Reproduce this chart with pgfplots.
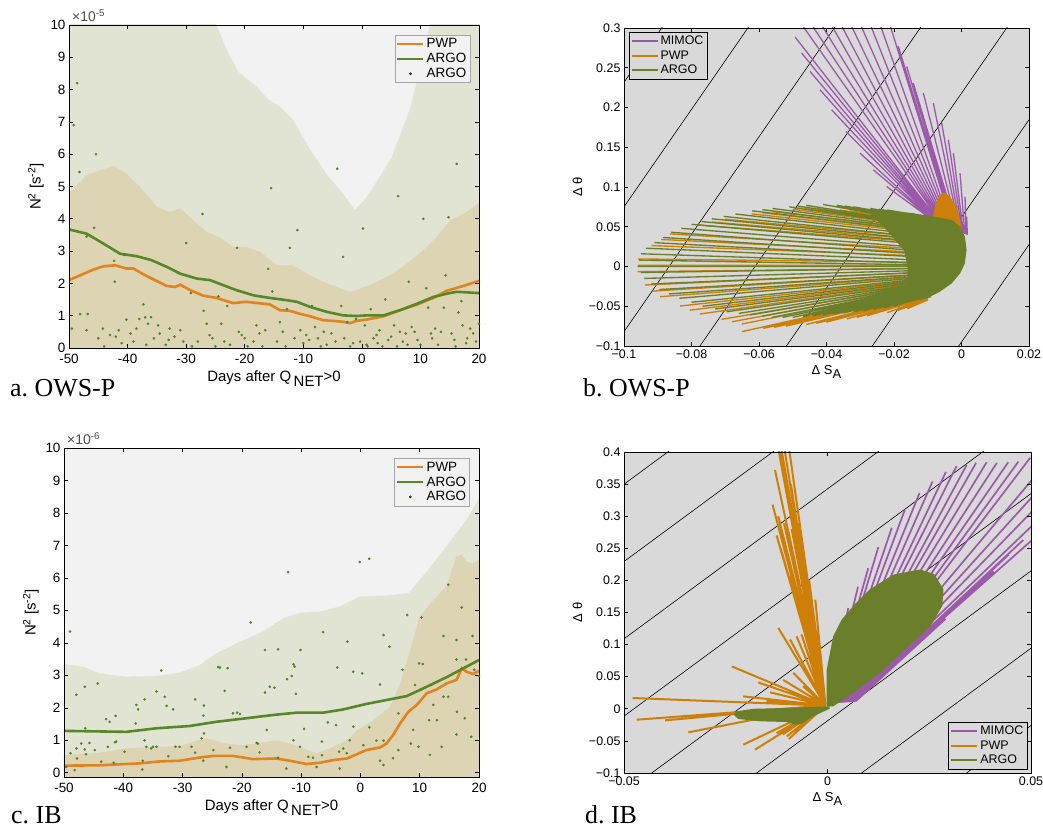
\documentclass[border=0pt]{standalone}
\usepackage{pgfplots}
\pgfplotsset{compat=1.18}
\usepackage{fontspec}
\setmainfont{Liberation Sans}
\newfontfamily\serif{Liberation Serif}
\definecolor{bgA}{HTML}{F2F2F2}
\definecolor{bandG}{HTML}{E1E4D3}
\definecolor{bandT}{HTML}{DDD4B3}
\definecolor{lineO}{HTML}{E3831E}
\definecolor{lineG}{HTML}{58872A}
\definecolor{dotG}{HTML}{55802A}
\definecolor{fanP}{HTML}{9B59AA}
\definecolor{fanO}{HTML}{CD7F08}
\definecolor{fanG}{HTML}{6B7F2B}
\definecolor{bgB}{HTML}{D9D9D9}
\pgfplotsset{
  base/.style={scale only axis, axis on top, tick align=inside, scaled ticks=false,
    major tick length=4bp, tick style={black, line width=0.6bp},
    axis line style={black, line width=0.8bp},
    legend cell align=left},
  tsbase/.style={base,
    ticklabel style={font=\fontsize{13.5}{15}\selectfont},
    xticklabel style={yshift=-3bp},
    label style={font=\fontsize{15}{17}\selectfont},
    legend style={at={(0.978,0.969)}, anchor=north east, fill=bgA, draw=black!35,
    font=\fontsize{13.5}{15}\selectfont, inner sep=1.5bp, row sep=0bp}},
  tsbase2/.style={base,
    ticklabel style={font=\fontsize{12.5}{14}\selectfont},
    label style={font=\fontsize{13}{15}\selectfont},
    legend style={fill=bgB, draw=black, font=\fontsize{12.5}{15}\selectfont, inner sep=1.5bp, row sep=0.5bp}},
}
\begin{document}
\begin{tikzpicture}
\useasboundingbox (0,0) rectangle (1043bp,828bp);

% ---------------- panel a ----------------
\begin{axis}[tsbase, name=pa, at={(69bp,480bp)}, anchor=south west, width=410bp, height=323bp,
  xmin=-50, xmax=20, ymin=0, ymax=10,
  axis background/.style={fill=bgA},
  xtick={-50,-40,...,20}, xticklabels={-50,-40,-30,-20,-10,0,10,20},
  ytick={0,1,...,10}, yticklabels={0,1,2,3,4,5,6,7,8,9,10},
  xlabel={Days after Q\,\raisebox{-0.55ex}{NET}>0},
  ylabel={N\textsuperscript{2} [s\textsuperscript{-2}]}]
\addlegendimage{legend image code/.code={\draw[draw=lineO, line width=2.4bp] (0bp,0bp) -- (26bp,0bp);}}
\addlegendentry{PWP}
\addlegendimage{legend image code/.code={\draw[draw=lineG, line width=2.4bp] (0bp,0bp) -- (26bp,0bp);}}
\addlegendentry{ARGO}
\addlegendimage{legend image code/.code={\fill[fill=dotG] (13bp,0bp) circle (1.1bp);}}
\addlegendentry{ARGO}
\addplot[fill=bandG, draw=none, forget plot] coordinates {
(-50,-1) (-50,11) (-26,11) (-24.8,10) (-23,9.2) (-21.1,8.55) (-18,8.1) (-16,7.7) (-14,7.47) (-11.7,7.05)
(-8.8,6.13) (-5.7,5.3) (-3.5,4.85) (-1.2,4.27) (0.5,4.6) (2,5.0) (5.1,5.9) (8.2,7.4) (10.5,9.0) (11.6,10) (12.5,11) (20,11) (20,-1)};
\addplot[fill=bandT, draw=none, forget plot] coordinates {
(-50,-1) (-50,4.78) (-47,5.35) (-44.7,5.5) (-42.4,5.64) (-40.2,5.4) (-37.9,4.99) (-35,4.37) (-32.8,4.21)
(-31,4.32) (-28.8,3.96) (-26.5,3.6) (-24.2,3.42) (-22,3.13) (-19.7,3.13) (-17.4,2.98) (-14.5,2.56)
(-11.7,2.56) (-9.4,2.3) (-6.6,2.05) (-4.3,1.89) (-2,1.74) (-0.3,1.84) (2,2.0) (4.8,2.25) (7.7,2.61)
(10.5,3.03) (12.8,3.44) (15.1,3.96) (17.9,4.21) (20,4.5) (20,-1)};
\addplot[dotG, only marks, mark=*, mark size=1.1bp, mark options={draw=none, fill=dotG}, forget plot] coordinates {
(-48.6,8.2) (-49.2,6.9) (-48.2,5.45) (-45.4,6.0) (-45.7,3.72) (-47,3.45) (-42.2,2.05) (-42.3,2.7)
(-40.6,2.88) (-48.1,1.05) (-47,0.55) (-46.8,1.05) (-49.5,0.6) (-44.2,0.6) (-43,0.4) (-42,0.35)
(-41.5,0.55) (-40.2,0.88) (-39.5,0.45) (-38.5,0.6) (-38,0.9) (-37.3,1.35) (-37,0.95) (-36.5,0.75)
(-36,0.95) (-35.5,0.3) (-34.8,0.7) (-34.5,0.45) (-33.5,0.1) (-32.8,0.6) (-31,0.55) (-30.5,0.2)
(-30,3.25) (-29.2,1.7) (-28,0.2) (-27.2,4.15) (-27,1.15) (-26.5,0.75) (-26,0.4) (-25.5,0.3)
(-24.5,1.6) (-24,0.75) (-23.5,0.2) (-23,1.3) (-22.5,0.1) (-21.3,3.1) (-21,0.5) (-20.5,0.4)
(-19.5,0.05) (-18.5,0.2) (-17.5,0.45) (-16.5,0.55) (-16,2.45) (-15.5,4.95) (-15.3,1.75) (-14.5,0.2)
(-14,0.8) (-13.5,0.5) (-12.8,1.2) (-12.3,3.1) (-11.5,0.3) (-11,3.65) (-10.5,0.55) (-10,0.15)
(-9,0.25) (-8.5,1.3) (-8,0.65) (-7.5,0.3) (-6.5,0.5) (-6,0.1) (-5.2,0.45) (-4.2,5.55) (-3.5,1.3)
(-3.2,2.82) (-3,0.3) (-2.5,0.8) (-1.5,0.15) (-1,0.9) (-0.3,0.2) (0.2,3.7) (0.5,0.7) (0.8,0.1)
(1.5,1.2) (2,0.3) (2.7,0.15) (3,0.55) (4,1.5) (4.5,0.25) (5,0.35) (5.5,0.7) (6.2,4.7) (6.5,0.5)
(7,0.2) (7.5,0.45) (8,2.05) (8.5,0.65) (9,0.5) (9.5,0.25) (10.5,4.0) (11,1.85) (11.3,1.25) (12,0.3)
(13,0.1) (13.5,0.5) (14,1.25) (14.3,2.25) (14.8,4.05) (15.3,0.45) (15.8,0.25) (16.2,5.7) (16.5,1.1)
(17,1.45) (17.2,0.7) (18,0.3) (18.5,0.6) (19,0.45) (19.5,0.2) (20,0.75) (19.8,1.7) (-44,0.05)
(-41,0.15) (-36.8,0.1) (-32,0.35) (-29,0.05) (-20,0.3) (-17,0.05) (-13,0.05) (-7,0.05) (-2,0.05)
(1,0.05) (3.5,0.05) (6,0.05) (10,0.1) (12.5,0.6) (16,0.05) (-45,0.3) (-39,0.2) (-33,0.25)
(-25,0.05) (-18,0.7) (-9.5,0.4) (-4.5,0.2) (2.5,0.4) (7.8,0.1) (11.8,0.45) (17.8,0.15)};
\addplot[lineO, line width=2.6bp, forget plot] coordinates {
(-50,2.1) (-48.1,2.25) (-45.8,2.43) (-44.1,2.53) (-42.1,2.56) (-40.2,2.46) (-39,2.46) (-37.3,2.28)
(-35,2.07) (-33.3,1.92) (-31.9,1.89) (-31,1.96) (-29.3,1.79) (-27.1,1.62) (-24.8,1.55) (-22,1.39)
(-19.7,1.43) (-16.8,1.37) (-15.7,1.35) (-14,1.17) (-12.3,1.15) (-10.6,1.06) (-8.8,0.98) (-6.6,0.86)
(-4.9,0.84) (-3.2,0.81) (-2,0.77) (-0.9,0.84) (0.8,0.88) (3.7,0.98) (6.5,1.17) (9.4,1.34)
(12.2,1.55) (14.5,1.77) (17.3,1.92) (20,2.08)};
\addplot[lineG, line width=2.6bp, forget plot] coordinates {
(-50,3.67) (-47,3.54) (-44.1,3.23) (-41.3,2.92) (-38.4,2.84) (-35.9,2.72) (-33.3,2.51) (-31,2.3)
(-28.2,2.15) (-25.9,2.1) (-23.6,1.94) (-21.4,1.79) (-18.5,1.63) (-15.7,1.55) (-12.8,1.48)
(-11.1,1.43) (-8.8,1.27) (-6,1.12) (-3.2,1.01) (-0.9,0.99) (0.8,1.01) (3.7,1.01) (6.5,1.17)
(9.4,1.37) (12.2,1.58) (14.5,1.68) (16.2,1.74) (20,1.7)};
\end{axis}
\node[anchor=base west, inner sep=0pt, font=\fontsize{14}{15}\selectfont, text=black!70] at ([xshift=3bp,yshift=3bp]pa.north west) {×10\textsuperscript{-5}};

% ---------------- panel c ----------------
\begin{axis}[tsbase, name=pc, at={(64bp,51bp)}, anchor=south west, width=415bp, height=329bp,
  xmin=-50, xmax=20, ymin=-0.13, ymax=10,
  axis background/.style={fill=bgA},
  xtick={-50,-40,...,20}, xticklabels={-50,-40,-30,-20,-10,0,10,20},
  ytick={0,1,...,10}, yticklabels={0,1,2,3,4,5,6,7,8,9,10},
  xlabel={Days after Q\,\raisebox{-0.55ex}{NET}>0},
  ylabel={N\textsuperscript{2} [s\textsuperscript{-2}]}]
\addlegendimage{legend image code/.code={\draw[draw=lineO, line width=2.4bp] (0bp,0bp) -- (26bp,0bp);}}
\addlegendentry{PWP}
\addlegendimage{legend image code/.code={\draw[draw=lineG, line width=2.4bp] (0bp,0bp) -- (26bp,0bp);}}
\addlegendentry{ARGO}
\addlegendimage{legend image code/.code={\fill[fill=dotG] (13bp,0bp) circle (1.1bp);}}
\addlegendentry{ARGO}
\addplot[fill=bandG, draw=none, forget plot] coordinates {
(-50,-1) (-50,3.34) (-46.8,3.27) (-44,3.06) (-39.5,2.96) (-34.4,2.98) (-30.5,3.08) (-27.1,3.32)
(-24.3,3.68) (-20.3,4.04) (-16.4,4.35) (-13,4.76) (-10.2,4.93) (-6.8,4.96) (-3.5,5.12) (-0.1,5.43)
(3.9,5.45) (8.1,5.53) (11.2,6.2) (14.5,6.97) (17.9,7.79) (20,8.46) (20,-1)};
\addplot[fill=bandT, draw=none, forget plot] coordinates {
(-50,-1) (-50,0.545) (-44,0.62) (-39.5,0.75) (-34.4,0.8) (-30.5,0.82) (-28.2,0.96) (-26,1.06)
(-22.6,0.9) (-20.3,0.85) (-17,0.92) (-14.2,1.0) (-11.9,0.9) (-9.7,0.75) (-7.4,0.6) (-5.2,0.75)
(-2.3,1.0) (-0.6,1.3) (2.2,1.62) (5,2.03) (6.7,2.75) (8.4,3.78) (10,4.81) (12.3,5.32) (14.5,5.73)
(16.2,6.66) (17.1,6.71) (17.9,6.5) (19,6.45) (20,6.56) (20,-1)};
\addplot[dotG, only marks, mark=*, mark size=1.1bp, mark options={draw=none, fill=dotG}, forget plot] coordinates {
(-49,4.35) (-47.9,2.4) (-46.5,2.65) (-44.3,2.75) (-33.6,3.15) (-18.5,4.63) (-12.2,6.18) (-0.1,6.49)
(1.5,6.59) (-6.3,4.33) (-2.2,4.04) (3.9,4.24) (4.9,3.88) (7.9,4.86) (10.3,4.78) (17.1,5.09)
(14.8,5.79) (16.2,4.09) (18.9,4.21) (14,4.21) (9.9,3.37) (7.1,3.17) (9.2,2.7) (3.3,2.72) (0.3,3.06)
(-1.2,3.11) (-3.9,3.24) (-11.6,2.98) (-12.4,2.88) (-11.3,3.34) (-11.1,3.27) (-10.9,2.43) (-10.1,3.78)
(-13.9,3.8) (-16.1,3.78) (-15.3,2.65) (-16.1,2.47) (-23.7,3.24) (-22.4,3.22) (-22.9,2.52) (-21.5,1.83)
(-20.3,1.81) (-27.9,2.26) (-26.4,2.07) (-26.5,1.76) (-31.6,1.95) (-32.7,2.06) (-33,2.34) (-34.4,2.5)
(-37.5,1.95) (-37.8,2.09) (-36.4,2.26) (-42.9,1.65) (-42.3,1.57) (-41.3,1.75) (-37.9,1.52)
(-47.9,0.75) (-41.4,0.94) (-35,0.8) (-31.2,0.8) (-26.8,1.06) (-26.4,1.21) (-15.8,1.32) (-17.5,0.92)
(-4.1,1.47) (-1.8,1.0) (-1.2,1.42) (6.4,1.83) (6.4,0.7) (8.5,0.9) (8.9,1.32) (9.8,0.8) (11.7,0.55)
(12.3,2.09) (12.9,1.62) (11.6,1.62) (13.7,0.8) (14,2.34) (14.8,2.34) (16.2,1.18) (16.3,1.88)
(17.6,1.68) (18.7,1.11) (19.2,3.17) (20,2.98) (17.8,3.49) (16.2,3.49) (3.9,0.24) (3.3,0.37)
(2.7,0.99) (3.9,0.99) (0.5,0.85) (-2.3,0.6) (-3.5,0.13) (-2.9,0.75) (-3.6,0.65) (-6.5,0.96)
(-6.5,0.54) (-7.4,0.18) (-8,0.46) (-8.8,0.49) (-10.2,0.8) (-11.3,1.0) (-12.5,0.13) (-13.9,0.46)
(-17,0.63) (-17.3,0.9) (-19.2,0.8) (-22,0.77) (-22.6,0.18) (-24.8,0.7) (-26.5,0.37) (-27.9,0.62)
(-28.5,0.8) (-30.5,0.8) (-32.4,0.51) (-34.4,0.8) (-35.3,0.75) (-36.1,0.8) (-36.4,1.0) (-36.8,0.1)
(-36.7,0.37) (-39.8,0.65) (-41.2,0.96) (-41.6,0.31) (-42.6,0.8) (-43.7,0.34) (-44.8,0.7) (-45.7,0.92)
(-46.3,0.57) (-46.5,0.72) (-47.1,0.9) (-47.8,0.44) (-48.2,0.08) (-48.9,0.6) (-49.6,0.18) (-46.4,1.37)
(-24,3.25) (-20.8,1.85) (-14.5,2.62) (-9.5,1.35) (-5.5,1.55) (1.5,1.4) (5.5,0.45) (10.5,3.35)};
\addplot[lineO, line width=2.6bp, forget plot] coordinates {
(-50,0.22) (-44,0.23) (-37.2,0.29) (-33.8,0.35) (-30.5,0.37) (-27.1,0.47) (-24.8,0.52) (-21.5,0.52)
(-18.1,0.42) (-14.2,0.44) (-11.9,0.37) (-9.1,0.27) (-6.8,0.31) (-4.6,0.39) (-2.3,0.44) (-0.6,0.57)
(1,0.7) (3.3,0.78) (4.4,0.9) (5.5,1.16) (6.7,1.52) (8.1,1.88) (9.5,2.09) (11.2,2.45) (12.9,2.57)
(14.5,2.75) (16.2,2.86) (17.1,3.22) (17.9,3.11) (19,3.04) (20,3.14)};
\addplot[lineG, line width=2.6bp, forget plot] coordinates {
(-50,1.29) (-39.5,1.26) (-34.4,1.37) (-28.8,1.44) (-24.3,1.57) (-19.2,1.68) (-14.7,1.78) (-10.8,1.85)
(-6.3,1.85) (-2.9,1.95) (1,2.12) (4.4,2.24) (7.8,2.36) (11.2,2.65) (14.5,2.94) (17.4,3.22) (20,3.47)};
\end{axis}
\node[anchor=base west, inner sep=0pt, font=\fontsize{14}{15}\selectfont, text=black!70] at ([xshift=3bp,yshift=3bp]pc.north west) {×10\textsuperscript{-6}};

% ---------------- panel b ----------------
\begin{axis}[tsbase2, at={(624bp,482bp)}, anchor=south west, width=405bp, height=318bp,
  xmin=-0.1, xmax=0.02, ymin=-0.1, ymax=0.3,
  axis background/.style={fill=bgB},
  xtick={-0.1,-0.08,-0.06,-0.04,-0.02,0,0.02},
  xticklabels={−0.1,−0.08,−0.06,−0.04,−0.02,0,0.02},
  ytick={-0.1,-0.05,0,0.05,0.1,0.15,0.2,0.25,0.3},
  yticklabels={−0.1,−0.05,0,0.05,0.1,0.15,0.2,0.25,0.3},
  xlabel={Δ S\raisebox{-0.6ex}{A}}, ylabel={Δ θ},
  unbounded coords=jump,
  legend style={at={(0.012,0.987)}, anchor=north west}]
\addlegendimage{legend image code/.code={\draw[draw=fanP, line width=2bp] (0bp,0bp) -- (26bp,0bp);}}
\addlegendentry{MIMOC}
\addlegendimage{legend image code/.code={\draw[draw=fanO, line width=2bp] (0bp,0bp) -- (26bp,0bp);}}
\addlegendentry{PWP}
\addlegendimage{legend image code/.code={\draw[draw=fanG, line width=2bp] (0bp,0bp) -- (26bp,0bp);}}
\addlegendentry{ARGO}
\addplot[black, line width=0.6bp, forget plot] coordinates {
(-0.1,0.2316) (0.02,0.9672) (nan,nan) (-0.1,0.0750) (0.02,0.8106) (nan,nan)
(-0.1,-0.082) (0.02,0.6536) (nan,nan) (-0.1,-0.238) (0.02,0.4976) (nan,nan)
(-0.1,-0.395) (0.02,0.3406) (nan,nan) (-0.1,-0.551) (0.02,0.1846) (nan,nan)
(-0.1,-0.708) (0.02,0.0276)};
\addplot[fanP, line width=1.3bp, forget plot] coordinates {
(-0.00933,0.0607) (-0.02217,0.1006) (nan,nan) (-0.00895,0.0600) (-0.02612,0.1216) (nan,nan)
(-0.00857,0.0593) (-0.03007,0.1426) (nan,nan) (-0.00819,0.0585) (-0.03422,0.1699) (nan,nan)
(-0.00780,0.0578) (-0.03847,0.1971) (nan,nan) (-0.00742,0.0571) (-0.04193,0.2223) (nan,nan)
(-0.00704,0.0564) (-0.04489,0.2454) (nan,nan) (-0.00666,0.0556) (-0.04736,0.2685) (nan,nan)
(-0.00628,0.0549) (-0.04933,0.2887) (nan,nan) (-0.00590,0.0542) (-0.04835,0.3105) (nan,nan)
(-0.00552,0.0535) (-0.04538,0.3105) (nan,nan) (-0.00513,0.0527) (-0.04242,0.3105) (nan,nan)
(-0.00475,0.0520) (-0.03946,0.3105) (nan,nan) (-0.00437,0.0513) (-0.03649,0.3105) (nan,nan)
(-0.00399,0.0506) (-0.03353,0.3105) (nan,nan) (-0.00361,0.0498) (-0.03057,0.3105) (nan,nan)
(-0.00323,0.0491) (-0.02760,0.3105) (nan,nan) (-0.00285,0.0484) (-0.02464,0.3105) (nan,nan)
(-0.00246,0.0477) (-0.02168,0.3105) (nan,nan) (-0.00208,0.0469) (-0.01872,0.2769) (nan,nan)
(-0.00170,0.0462) (-0.01625,0.2517) (nan,nan) (-0.00132,0.0455) (-0.01427,0.2307) (nan,nan)
(-0.00094,0.0448) (-0.01131,0.2181) (nan,nan) (-0.00056,0.0440) (-0.00835,0.2055) (nan,nan)
(-0.00018,0.0433) (-0.00588,0.1804) (nan,nan) (0.00021,0.0426) (-0.00390,0.1594) (nan,nan)
(0.00059,0.0419) (-0.00242,0.1426) (nan,nan) (0.00097,0.0411) (-0.00044,0.1174) (nan,nan)
(0.00135,0.0404) (0.00104,0.0880) (nan,nan) (0.00173,0.0397) (0.00153,0.0628)};
\addplot[fanO, line width=1.35bp, forget plot] coordinates {
(-0.024,0.066) (-0.004,0.055) (nan,nan) (-0.030,0.069) (-0.004,0.053) (nan,nan)
(-0.036,0.071) (-0.004,0.051) (nan,nan) (-0.043,0.073) (-0.004,0.049) (nan,nan)
(-0.050,0.072) (-0.004,0.046) (nan,nan) (-0.056,0.069) (-0.004,0.043) (nan,nan)
(-0.0622,0.0662) (-0.004,0.039) (nan,nan) (-0.0701,0.0594) (-0.004,0.034) (nan,nan)
(-0.0783,0.0523) (-0.004,0.028) (nan,nan) (-0.0864,0.041) (-0.004,0.020) (nan,nan)
(-0.0918,0.0263) (-0.004,0.012) (nan,nan) (-0.0958,0.0095) (-0.004,0.005) (nan,nan)
(-0.0960,-0.0065) (-0.004,-0.002) (nan,nan) (-0.0938,-0.0233) (-0.004,-0.006) (nan,nan)
(-0.0893,-0.038) (-0.004,-0.010) (nan,nan) (-0.0834,-0.0497) (-0.004,-0.013) (nan,nan)
(-0.0775,-0.0598) (-0.005,-0.016) (nan,nan) (-0.0711,-0.0665) (-0.005,-0.019) (nan,nan)
(-0.0651,-0.0724) (-0.006,-0.022) (nan,nan) (-0.0651,-0.082) (-0.006,-0.026) (nan,nan)
(-0.0587,-0.0778) (-0.007,-0.028) (nan,nan) (-0.052,-0.075) (-0.007,-0.030) (nan,nan)
(-0.046,-0.073) (-0.008,-0.032) (nan,nan) (-0.040,-0.070) (-0.008,-0.034) (nan,nan)
(-0.034,-0.066) (-0.009,-0.036) (nan,nan) (-0.028,-0.062) (-0.009,-0.038) (nan,nan)
(-0.022,-0.058) (-0.010,-0.040) (nan,nan) (-0.016,-0.053) (-0.010,-0.042) (nan,nan)
(-0.033,0.070) (-0.004,0.052) (nan,nan) (-0.0465,0.0725) (-0.004,0.0475) (nan,nan)
(-0.059,0.0676) (-0.004,0.041) (nan,nan) (-0.074,0.056) (-0.004,0.031) (nan,nan)
(-0.089,0.034) (-0.004,0.016) (nan,nan) (-0.0959,0.0015) (-0.004,0.0015) (nan,nan)
(-0.0915,-0.031) (-0.004,-0.008) (nan,nan) (-0.0805,-0.055) (-0.0045,-0.0145) (nan,nan)
(-0.068,-0.0695) (-0.0055,-0.0205) (nan,nan) (-0.0555,-0.0765) (-0.0065,-0.029) (nan,nan)
(-0.043,-0.0715) (-0.008,-0.033) (nan,nan) (-0.031,-0.064) (-0.009,-0.037) (nan,nan)
(-0.019,-0.0555) (-0.010,-0.041)};
\addplot[fill=fanO, draw=none, forget plot] coordinates {
(-0.0090,0.060) (-0.0083,0.065) (-0.0078,0.0775) (-0.0064,0.090) (-0.0052,0.0930) (-0.0034,0.088)
(-0.0016,0.0754) (-0.0004,0.0586) (0.0,0.046) (-0.004,0.050)};
\addplot[fanG, line width=1.35bp, forget plot] coordinates {
(-0.022,0.071) (-0.004,0.058) (nan,nan) (-0.027,0.073) (-0.004,0.056) (nan,nan)
(-0.032,0.075) (-0.004,0.054) (nan,nan) (-0.037,0.077) (-0.004,0.052) (nan,nan)
(-0.041,0.078) (-0.004,0.050) (nan,nan) (-0.046,0.077) (-0.004,0.048) (nan,nan)
(-0.051,0.075) (-0.004,0.046) (nan,nan) (-0.056,0.073) (-0.004,0.044) (nan,nan)
(-0.062,0.070) (-0.004,0.040) (nan,nan) (-0.067,0.066) (-0.004,0.036) (nan,nan)
(-0.074,0.060) (-0.004,0.031) (nan,nan) (-0.080,0.053) (-0.004,0.025) (nan,nan)
(-0.086,0.043) (-0.004,0.017) (nan,nan) (-0.091,0.030) (-0.004,0.010) (nan,nan)
(-0.095,0.016) (-0.004,0.003) (nan,nan) (-0.096,0.000) (-0.004,0.000) (nan,nan)
(-0.094,-0.015) (-0.004,-0.004) (nan,nan) (-0.0895,-0.029) (-0.004,-0.008) (nan,nan)
(-0.0836,-0.040) (-0.004,-0.011) (nan,nan) (-0.0767,-0.050) (-0.005,-0.014) (nan,nan)
(-0.0696,-0.057) (-0.005,-0.017) (nan,nan) (-0.0627,-0.061) (-0.006,-0.020) (nan,nan)
(-0.0562,-0.064) (-0.006,-0.022) (nan,nan) (-0.050,-0.064) (-0.007,-0.024) (nan,nan)
(-0.044,-0.062) (-0.007,-0.026) (nan,nan) (-0.038,-0.060) (-0.008,-0.028) (nan,nan)
(-0.032,-0.057) (-0.008,-0.030) (nan,nan) (-0.026,-0.054) (-0.009,-0.032) (nan,nan)
(-0.020,-0.050) (-0.009,-0.034) (nan,nan)
(-0.0245,0.072) (-0.004,0.057) (nan,nan) (-0.0345,0.076) (-0.004,0.053) (nan,nan)
(-0.0485,0.076) (-0.004,0.047) (nan,nan) (-0.059,0.0715) (-0.004,0.042) (nan,nan)
(-0.0705,0.063) (-0.004,0.0335) (nan,nan) (-0.077,0.0565) (-0.004,0.028) (nan,nan)
(-0.083,0.048) (-0.004,0.021) (nan,nan) (-0.0885,0.0365) (-0.004,0.0135) (nan,nan)
(-0.0935,0.023) (-0.004,0.0065) (nan,nan) (-0.0955,0.008) (-0.004,0.0015) (nan,nan)
(-0.095,-0.0075) (-0.004,-0.002) (nan,nan) (-0.092,-0.022) (-0.004,-0.006) (nan,nan)
(-0.0866,-0.0345) (-0.004,-0.0095) (nan,nan) (-0.080,-0.045) (-0.0045,-0.0125) (nan,nan)
(-0.073,-0.0535) (-0.005,-0.0155) (nan,nan) (-0.066,-0.059) (-0.0055,-0.0185) (nan,nan)
(-0.059,-0.0625) (-0.006,-0.021) (nan,nan) (-0.053,-0.064) (-0.0065,-0.023) (nan,nan)
(-0.047,-0.063) (-0.007,-0.025) (nan,nan) (-0.041,-0.061) (-0.0075,-0.027) (nan,nan)
(-0.035,-0.0585) (-0.008,-0.029) (nan,nan) (-0.029,-0.0555) (-0.0085,-0.031) (nan,nan)
(-0.023,-0.052) (-0.009,-0.033)};
\addplot[fill=fanG, draw=none, forget plot] coordinates {
(-0.028,0.0705) (-0.0241,0.0712) (-0.0143,0.067) (-0.0083,0.0628) (-0.0029,0.0586) (-0.0004,0.050)
(0.0010,0.0376) (0.0015,0.0208) (0.0010,0.004) (-0.0004,-0.0086) (-0.0029,-0.0212) (-0.0064,-0.0317)
(-0.0103,-0.040) (-0.0172,-0.0464) (-0.0220,-0.049) (-0.018,-0.040) (-0.016,-0.020) (-0.016,0.0)
(-0.017,0.020) (-0.022,0.045)};
\end{axis}

% ---------------- panel d ----------------
\begin{axis}[tsbase2, at={(624bp,55bp)}, anchor=south west, width=407bp, height=321bp,
  xmin=-0.05, xmax=0.05, ymin=-0.1, ymax=0.4,
  axis background/.style={fill=bgB},
  xtick={-0.05,0,0.05}, xticklabels={−0.05,0,0.05},
  ytick={-0.1,-0.05,0,0.05,0.1,0.15,0.2,0.25,0.3,0.35,0.4},
  yticklabels={−0.1,−0.05,0,0.05,0.1,0.15,0.2,0.25,0.3,0.35,0.4},
  xlabel={Δ S\raisebox{-0.6ex}{A}}, ylabel={Δ θ},
  unbounded coords=jump,
  legend style={at={(0.99,0.012)}, anchor=south east}]
\addlegendimage{legend image code/.code={\draw[draw=fanP, line width=2.2bp] (0bp,0bp) -- (26bp,0bp);}}
\addlegendentry{MIMOC}
\addlegendimage{legend image code/.code={\draw[draw=fanO, line width=2.2bp] (0bp,0bp) -- (26bp,0bp);}}
\addlegendentry{PWP}
\addlegendimage{legend image code/.code={\draw[draw=fanG, line width=2.2bp] (0bp,0bp) -- (26bp,0bp);}}
\addlegendentry{ARGO}
\addplot[black, line width=0.6bp, forget plot] coordinates {
(-0.05,0.3498) (0.05,0.8168) (nan,nan) (-0.05,0.2294) (0.05,0.6964) (nan,nan)
(-0.05,0.109) (0.05,0.576) (nan,nan) (-0.05,-0.0114) (0.05,0.4556) (nan,nan)
(-0.05,-0.1318) (0.05,0.3352) (nan,nan) (-0.05,-0.2522) (0.05,0.2148) (nan,nan)
(-0.05,-0.3726) (0.05,0.0944) (nan,nan) (-0.05,-0.493) (0.05,-0.026)};
\addplot[fanP, line width=1.7bp, forget plot] coordinates {
(0.0000,0.0080) (0.0035,0.113) (nan,nan) (0.0002,0.0081) (0.0051,0.157) (nan,nan)
(0.0005,0.0083) (0.0075,0.190) (nan,nan) (0.0007,0.0084) (0.0100,0.219) (nan,nan)
(0.0010,0.0086) (0.0125,0.252) (nan,nan) (0.0012,0.0087) (0.0158,0.282) (nan,nan)
(0.0014,0.0088) (0.0190,0.310) (nan,nan) (0.0017,0.0090) (0.0226,0.336) (nan,nan)
(0.0019,0.0091) (0.0258,0.354) (nan,nan) (0.0022,0.0092) (0.0291,0.369) (nan,nan)
(0.0024,0.0094) (0.0317,0.378) (nan,nan) (0.0027,0.0095) (0.0342,0.380) (nan,nan)
(0.0029,0.0097) (0.0365,0.383) (nan,nan) (0.0031,0.0098) (0.0391,0.384) (nan,nan)
(0.0034,0.0099) (0.0416,0.383) (nan,nan) (0.0036,0.0101) (0.0444,0.384) (nan,nan)
(0.0039,0.0102) (0.0469,0.385) (nan,nan) (0.0041,0.0103) (0.0498,0.391) (nan,nan)
(0.0043,0.0105) (0.056,0.400) (nan,nan) (0.0046,0.0106) (0.056,0.370) (nan,nan)
(0.0048,0.0108) (0.056,0.345) (nan,nan) (0.0051,0.0109) (0.056,0.320) (nan,nan)
(0.0053,0.0110) (0.056,0.295) (nan,nan) (0.0056,0.0112) (0.0481,0.263) (nan,nan)
(0.0058,0.0113) (0.0445,0.240) (nan,nan) (0.0060,0.0114) (0.0408,0.214) (nan,nan)
(0.0063,0.0116) (0.0365,0.190) (nan,nan) (0.0065,0.0117) (0.0326,0.165) (nan,nan)
(0.0068,0.0119) (0.0290,0.140) (nan,nan) (0.0070,0.0120) (0.0252,0.118)};
\addplot[fanO, line width=2bp, forget plot] coordinates {
(-0.0005,0.005) (-0.0128,0.43) (nan,nan) (-0.0005,0.005) (-0.0112,0.43) (nan,nan)
(-0.0005,0.005) (-0.0120,0.43) (nan,nan) (-0.0005,0.005) (-0.0100,0.43) (nan,nan)
(-0.0005,0.005) (-0.0129,0.372) (nan,nan) (-0.0005,0.005) (-0.0090,0.35) (nan,nan)
(-0.0005,0.005) (-0.0135,0.318) (nan,nan) (-0.0005,0.005) (-0.0121,0.300) (nan,nan)
(-0.0005,0.005) (-0.0085,0.30) (nan,nan) (-0.0005,0.005) (-0.0107,0.289) (nan,nan)
(-0.0005,0.005) (-0.0096,0.276) (nan,nan) (-0.0005,0.005) (-0.0072,0.289) (nan,nan)
(-0.0005,0.005) (-0.0080,0.26) (nan,nan) (-0.0005,0.005) (-0.0106,0.230) (nan,nan)
(-0.0005,0.005) (-0.0060,0.24) (nan,nan) (-0.0005,0.005) (-0.0065,0.22) (nan,nan)
(-0.0005,0.005) (-0.0092,0.206) (nan,nan) (-0.0005,0.005) (-0.0045,0.20) (nan,nan)
(-0.0005,0.005) (-0.0030,0.17) (nan,nan) (-0.0005,0.005) (-0.0050,0.15) (nan,nan)
(-0.0005,0.005) (-0.0040,0.13) (nan,nan) (-0.0005,0.005) (-0.0025,0.10) (nan,nan)
(-0.0005,0.005) (-0.0115,0.40) (nan,nan) (-0.0005,0.005) (-0.0105,0.37) (nan,nan)
(-0.0005,0.005) (-0.0098,0.33) (nan,nan) (-0.0005,0.005) (-0.0088,0.28) (nan,nan)
(-0.0005,0.005) (-0.0078,0.25) (nan,nan) (-0.0005,0.005) (-0.0070,0.23) (nan,nan)
(-0.0005,0.005) (-0.0055,0.21) (nan,nan) (-0.0005,0.005) (-0.0048,0.18) (nan,nan)
(-0.0005,0.005) (-0.0035,0.15) (nan,nan) (-0.0005,0.005) (-0.0028,0.12) (nan,nan)
(-0.0005,0.005) (-0.0115,0.25) (nan,nan) (-0.0005,0.005) (-0.0125,0.27) (nan,nan)
(-0.0005,0.005) (-0.0121,0.126) (nan,nan) (-0.0005,0.005) (-0.0092,0.108) (nan,nan)
(-0.0005,0.005) (-0.0076,0.113) (nan,nan) (-0.0005,0.005) (-0.0064,0.116) (nan,nan)
(-0.0005,0.005) (-0.0056,0.100) (nan,nan) (-0.0005,0.005) (-0.0040,0.09) (nan,nan)
(-0.0005,0.005) (-0.0235,0.066) (nan,nan) (-0.0005,0.005) (-0.0170,0.041) (nan,nan)
(-0.0005,0.005) (-0.0141,0.0256) (nan,nan) (-0.0005,0.005) (-0.0109,0.045) (nan,nan)
(-0.0005,0.005) (-0.0084,0.056) (nan,nan) (-0.0005,0.005) (-0.0207,0.0194) (nan,nan)
(-0.0005,0.005) (-0.0479,0.0168) (nan,nan) (-0.0005,0.005) (-0.0469,-0.017) (nan,nan)
(-0.0005,0.005) (-0.0399,-0.018) (nan,nan) (-0.0005,0.005) (-0.0342,-0.0367) (nan,nan)
(-0.0005,0.005) (-0.0207,-0.0559) (nan,nan) (-0.0005,0.005) (-0.0178,-0.0637) (nan,nan)
(-0.0005,0.005) (-0.0100,-0.043) (nan,nan) (-0.0005,0.005) (-0.0095,-0.047) (nan,nan)
(-0.0005,0.005) (-0.0110,-0.040) (nan,nan) (-0.0005,0.005) (-0.0080,-0.035) (nan,nan)
(-0.0005,0.005) (-0.0125,-0.038) (nan,nan) (-0.0005,0.005) (-0.0060,-0.025) (nan,nan)
(-0.0005,0.005) (-0.0150,0.012) (nan,nan) (-0.0005,0.005) (-0.0060,0.035) (nan,nan)
(-0.0005,0.005) (-0.0030,0.06)};
\addplot[fill=fanG, draw=none, forget plot] coordinates {
(-0.0002,0.004) (-0.0002,0.061) (0.0014,0.113) (0.0035,0.139) (0.0063,0.160) (0.0104,0.186)
(0.0162,0.209) (0.0227,0.217) (0.0262,0.210) (0.0285,0.186) (0.0282,0.160) (0.0252,0.128)
(0.0200,0.098) (0.0129,0.0558) (0.0063,0.0246) (0.0014,0.0038)};
\addplot[fill=fanG, draw=none, forget plot] coordinates {
(0.0005,0.004) (-0.0100,0.0013) (-0.0182,0.0) (-0.0223,-0.004) (-0.0231,-0.009) (-0.0219,-0.0159)
(-0.0166,-0.0195) (-0.0100,-0.0206) (-0.0080,-0.0247) (-0.0063,-0.023) (-0.0035,-0.0117) (0.0005,0.0)};
\end{axis}

% captions
\node[anchor=base west, inner sep=0pt, font=\serif\fontsize{26}{28}\selectfont] at (10bp,431bp) {a.\ OWS-P};
\node[anchor=base west, inner sep=0pt, font=\serif\fontsize{26}{28}\selectfont] at (583bp,431bp) {b.\ OWS-P};
\node[anchor=base west, inner sep=0pt, font=\serif\fontsize{26}{28}\selectfont] at (11bp,5bp) {c.\ IB};
\node[anchor=base west, inner sep=0pt, font=\serif\fontsize{26}{28}\selectfont] at (585bp,5bp) {d.\ IB};
\end{tikzpicture}
\end{document}
